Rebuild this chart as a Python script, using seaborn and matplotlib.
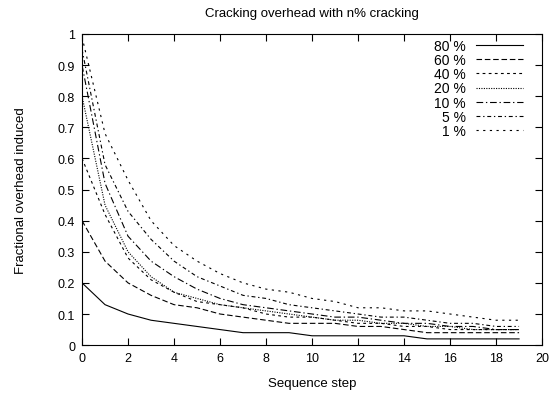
import matplotlib
matplotlib.use("Agg")
import matplotlib.pyplot as plt
import seaborn as sns
import pandas as pd

steps = list(range(20))
labels = ["80 %", "60 %", "40 %", "20 %", "10 %", "5 %", "1 %"]
v80 = [0.20, 0.13, 0.10, 0.08, 0.07, 0.06, 0.05, 0.04, 0.04, 0.04,
       0.03, 0.03, 0.03, 0.03, 0.03, 0.02, 0.02, 0.02, 0.02, 0.02]
v60 = [0.40, 0.27, 0.20, 0.16, 0.13, 0.12, 0.10, 0.09, 0.08, 0.07,
       0.07, 0.07, 0.06, 0.06, 0.05, 0.04, 0.04, 0.04, 0.04, 0.04]
v40 = [0.60, 0.42, 0.28, 0.21, 0.17, 0.14, 0.13, 0.12, 0.10, 0.09,
       0.09, 0.08, 0.07, 0.07, 0.06, 0.06, 0.05, 0.05, 0.05, 0.05]
v20 = [0.80, 0.45, 0.30, 0.22, 0.17, 0.15, 0.13, 0.12, 0.11, 0.10,
       0.09, 0.08, 0.08, 0.07, 0.07, 0.06, 0.06, 0.05, 0.05, 0.05]
v10 = [0.90, 0.52, 0.35, 0.27, 0.22, 0.18, 0.15, 0.13, 0.12, 0.11,
       0.10, 0.09, 0.09, 0.08, 0.07, 0.07, 0.06, 0.06, 0.05, 0.05]
v5 = [0.95, 0.58, 0.43, 0.34, 0.27, 0.22, 0.19, 0.16, 0.15, 0.13,
      0.12, 0.11, 0.10, 0.09, 0.09, 0.08, 0.07, 0.07, 0.06, 0.06]
v1 = [0.99, 0.68, 0.53, 0.40, 0.32, 0.27, 0.23, 0.20, 0.18, 0.17,
      0.15, 0.14, 0.12, 0.12, 0.11, 0.11, 0.10, 0.09, 0.08, 0.08]
series = [v80, v60, v40, v20, v10, v5, v1]

rows = []
for lab, vals in zip(labels, series):
    for s, v in zip(steps, vals):
        rows.append({"step": s, "overhead": v, "pct": lab})
df = pd.DataFrame(rows)

plt.rcParams['font.family'] = ['Liberation Sans', 'DejaVu Sans']
fig = plt.figure(figsize=(5.52, 4.02), dpi=100)
ax = fig.add_axes([0.1486, 0.139, 0.8334, 0.774])

dashes = {
    "80 %": "",
    "60 %": (5, 2.5),
    "40 %": (2.5, 3),
    "20 %": (1, 1.2),
    "10 %": (6, 2.5, 1.2, 2.5),
    "5 %": (3.5, 2.5, 1.2, 2.5),
    "1 %": (2, 4),
}
palette = {lab: "black" for lab in labels}
sns.lineplot(data=df, x="step", y="overhead", hue="pct", style="pct",
             hue_order=labels, style_order=labels, palette=palette,
             dashes=dashes, linewidth=0.8, ax=ax)

ax.set_xlim(0, 20)
ax.set_ylim(0, 1)
ax.set_xticks(range(0, 21, 2))
ax.set_yticks([i / 10 for i in range(11)])
ax.set_yticklabels(["0", "0.1", "0.2", "0.3", "0.4", "0.5", "0.6", "0.7", "0.8", "0.9", "1"])
ax.tick_params(direction="in", top=True, right=True, length=5, width=0.8,
               labelsize=9, pad=5)
for sp in ax.spines.values():
    sp.set_linewidth(0.8)
ax.set_xlabel("Sequence step", fontsize=9.5, labelpad=9)
ax.set_ylabel("Fractional overhead induced", fontsize=9.5, labelpad=22)
ax.set_title("Cracking overhead with n% cracking", fontsize=9.5, pad=13)

handles, labs = ax.get_legend_handles_labels()
ax.legend(handles, labs, loc="upper right", frameon=False, markerfirst=False,
          fontsize=10, handlelength=3.4, labelspacing=0.02,
          bbox_to_anchor=(0.958, 0.985), borderaxespad=0, borderpad=0,
          handletextpad=0.7)

fig.savefig("out.png", dpi=100)
